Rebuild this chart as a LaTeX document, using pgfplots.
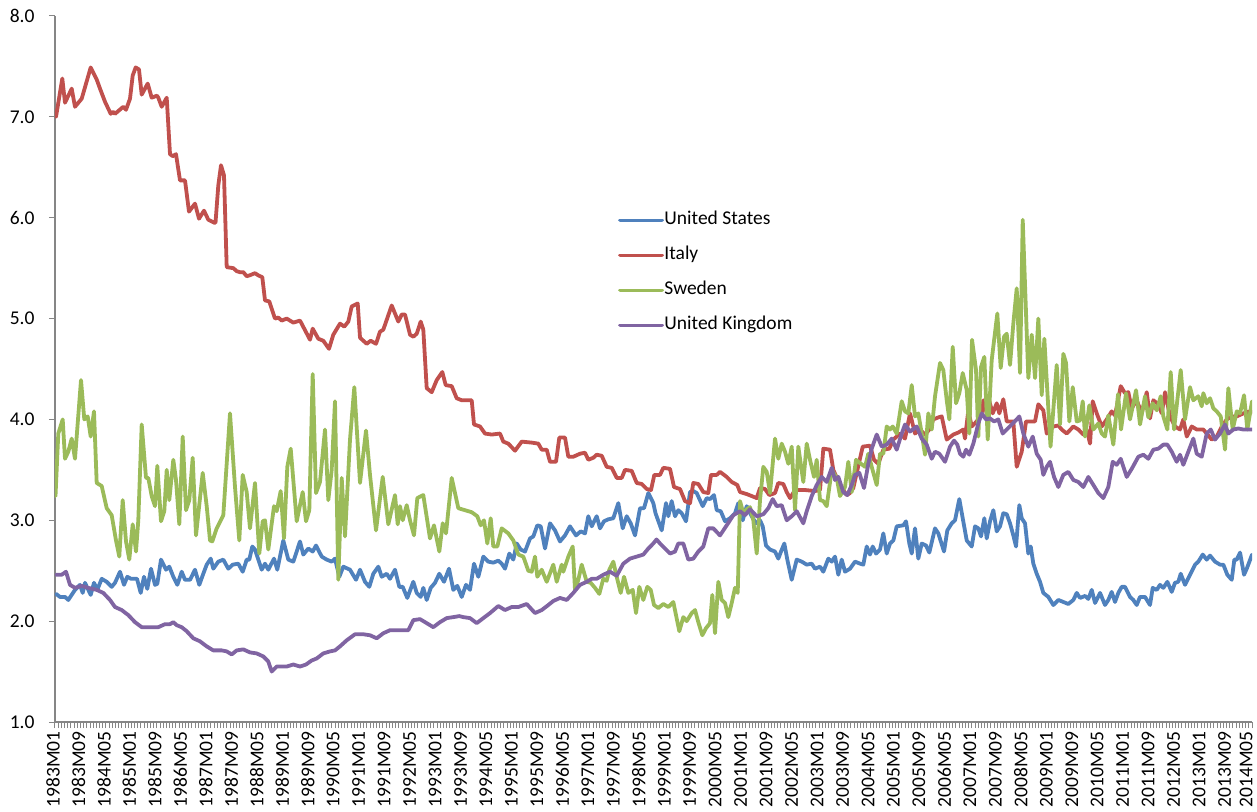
\documentclass[border=0pt]{standalone}
\usepackage{fontspec}
\setmainfont{Carlito}
\usepackage{pgfplots}
\pgfplotsset{compat=1.18}
\usepackage{pgfplotstable}

\definecolor{usblue}{HTML}{4F81BD}
\definecolor{itred}{HTML}{C0504D}
\definecolor{segreen}{HTML}{9BBB59}
\definecolor{ukpurple}{HTML}{8064A2}
\definecolor{axgray}{HTML}{868686}

% px = horizontal position (55 = 1983M01, 1252 = 2014M05), v = value
\pgfplotstableread[row sep=\\]{
px v\\
56 2.27\\ 60 2.24\\ 65 2.24\\ 68.3 2.21\\ 75 2.31\\ 80 2.36\\ 82.7 2.28\\ 85 2.38\\ 90.7 2.26\\ 94 2.38\\
97.3 2.31\\ 101.7 2.42\\ 106.7 2.39\\ 111.7 2.34\\ 115 2.38\\ 120 2.49\\ 124 2.36\\ 127.3 2.44\\ 131 2.42\\ 137 2.42\\
140.7 2.28\\ 144 2.44\\ 147.3 2.32\\ 151 2.52\\ 155 2.36\\ 157.3 2.37\\ 161 2.61\\ 166 2.51\\ 169.3 2.54\\ 173.3 2.44\\
177.3 2.36\\ 181.7 2.49\\ 185 2.41\\ 190 2.41\\ 195 2.51\\ 199.3 2.36\\ 203.3 2.47\\ 206.7 2.56\\ 210.7 2.62\\ 213.3 2.52\\
218.3 2.59\\ 223.3 2.61\\ 228.3 2.52\\ 232.7 2.56\\ 238.3 2.57\\ 242.7 2.49\\ 246.7 2.61\\ 249.3 2.61\\ 252.3 2.74\\ 255 2.71\\
258.3 2.61\\ 261.7 2.51\\ 265 2.57\\ 268.3 2.51\\ 274 2.62\\ 277.3 2.51\\ 283.3 2.80\\ 288.3 2.61\\ 293.3 2.59\\ 300 2.79\\
303.3 2.66\\ 308.3 2.72\\ 312.7 2.69\\ 316 2.75\\ 321.7 2.64\\ 326.7 2.61\\ 331.7 2.59\\ 335 2.62\\ 339.3 2.44\\ 343.3 2.54\\
350 2.51\\ 356 2.41\\ 360 2.51\\ 365 2.39\\ 369.3 2.34\\ 373.3 2.47\\ 378.3 2.54\\ 381.7 2.44\\ 386.7 2.47\\ 390 2.42\\
395 2.51\\ 399.3 2.34\\ 402.7 2.34\\ 407.3 2.23\\ 413.3 2.39\\ 416.7 2.28\\ 420.7 2.24\\ 423.3 2.33\\ 426.7 2.21\\ 430.7 2.33\\
435 2.38\\ 439.3 2.47\\ 444 2.39\\ 449 2.52\\ 453.3 2.31\\ 457.3 2.35\\ 461.7 2.24\\ 466 2.36\\ 470 2.31\\ 474 2.57\\
478.3 2.44\\ 483.3 2.64\\ 488.3 2.59\\ 493.3 2.58\\ 498.3 2.60\\ 501.7 2.57\\ 505 2.52\\ 509.3 2.67\\ 513.3 2.61\\ 516.7 2.77\\
520.7 2.71\\ 525 2.69\\ 530 2.82\\ 533.3 2.84\\ 537.3 2.95\\ 540.7 2.94\\ 545 2.72\\ 550 2.97\\ 555 2.90\\ 560 2.79\\
565 2.85\\ 570 2.94\\ 576 2.85\\ 580.7 2.89\\ 585 2.87\\ 588.3 3.04\\ 591.7 2.94\\ 596.7 3.04\\ 600 2.92\\ 604 2.99\\
608.3 3.01\\ 613.3 3.02\\ 618.3 3.17\\ 622.7 2.92\\ 626.7 3.04\\ 630.7 2.97\\ 635 2.85\\ 640 3.12\\ 644 3.12\\ 648.3 3.27\\
653.3 3.17\\ 655.5 3.07\\ 661.7 2.90\\ 666 3.17\\ 668.3 3.04\\ 671.7 3.19\\ 675 3.04\\ 678.3 3.10\\ 681.7 3.07\\ 686 2.99\\
690 3.28\\ 693.3 3.29\\ 696.7 3.27\\ 702.7 3.14\\ 706.7 3.22\\ 710 3.21\\ 714 3.25\\ 716.7 3.10\\ 720.7 3.09\\ 725 2.99\\
730 3.02\\ 735 3.07\\ 738.3 3.17\\ 742.7 3.00\\ 746.7 3.14\\ 751.7 3.04\\ 756 2.97\\ 760 3.00\\ 762.7 2.94\\ 766 2.75\\
770 2.71\\ 775 2.69\\ 778.3 2.62\\ 781 2.69\\ 784.3 2.77\\ 787.3 2.61\\ 791.7 2.41\\ 796.7 2.61\\ 801.7 2.59\\ 806.7 2.56\\
811.7 2.57\\ 815 2.52\\ 820 2.54\\ 823.3 2.49\\ 828.3 2.62\\ 831.7 2.59\\ 835 2.64\\ 838.3 2.46\\ 841.7 2.61\\ 845 2.49\\
850 2.52\\ 855 2.59\\ 860 2.57\\ 863.3 2.56\\ 866.7 2.74\\ 870 2.66\\ 872.7 2.74\\ 876 2.67\\ 880 2.71\\ 883.3 2.87\\
886.7 2.67\\ 890 2.77\\ 893.3 2.80\\ 896.7 2.94\\ 903.3 2.95\\ 906 2.99\\ 909.3 2.77\\ 911.7 2.67\\ 915 2.92\\ 918.3 2.62\\
921.7 2.77\\ 926 2.75\\ 929.3 2.68\\ 935 2.92\\ 938.3 2.87\\ 944 2.69\\ 947.3 2.90\\ 951.7 2.97\\ 955 3.00\\ 959.3 3.21\\
962.7 3.02\\ 966.7 2.80\\ 971.7 2.74\\ 975 2.94\\ 978.3 2.92\\ 981 2.84\\ 984.3 3.02\\ 986.7 2.82\\ 990 2.99\\ 993.3 3.10\\
996.7 2.89\\ 1000 2.94\\ 1003.3 3.07\\ 1006.7 3.06\\ 1010 2.97\\ 1013.3 2.85\\ 1016 2.74\\ 1019.3 3.15\\ 1021.7 3.02\\ 1025 2.97\\
1028.3 2.67\\ 1030.7 2.74\\ 1033.3 2.57\\ 1036.7 2.47\\ 1040 2.39\\ 1043.3 2.28\\ 1048.3 2.24\\ 1053.3 2.16\\ 1058.3 2.21\\ 1063.3 2.19\\
1068.3 2.17\\ 1073.3 2.21\\ 1076.7 2.28\\ 1080 2.23\\ 1085 2.25\\ 1088.3 2.22\\ 1091.7 2.31\\ 1095 2.18\\ 1100 2.28\\ 1105 2.16\\
1108.3 2.21\\ 1111.7 2.29\\ 1115 2.19\\ 1118.3 2.28\\ 1121.7 2.34\\ 1125 2.34\\ 1130 2.24\\ 1133.3 2.21\\ 1136.7 2.16\\ 1140 2.24\\
1145 2.24\\ 1150 2.16\\ 1152.7 2.33\\ 1156.7 2.31\\ 1160 2.36\\ 1163.3 2.33\\ 1167.3 2.39\\ 1171.7 2.29\\ 1175 2.38\\ 1178.3 2.39\\
1180.7 2.47\\ 1185 2.36\\ 1190 2.46\\ 1195 2.56\\ 1198.3 2.59\\ 1202.7 2.66\\ 1206.7 2.61\\ 1210 2.65\\ 1215 2.59\\ 1220 2.56\\
1223.3 2.56\\ 1227.3 2.46\\ 1231.7 2.41\\ 1234.3 2.61\\ 1236.7 2.61\\ 1240 2.68\\ 1244 2.46\\ 1246.7 2.52\\ 1252 2.66\\
}\usdata

\pgfplotstableread[row sep=\\]{
px v\\
56 7.00\\ 62.3 7.38\\ 65 7.14\\ 71.7 7.28\\ 75 7.10\\ 81.7 7.18\\ 90.7 7.49\\ 96.7 7.37\\ 100 7.28\\ 105 7.15\\
110.7 7.03\\ 113 7.05\\ 115 7.03\\ 123.3 7.10\\ 126 7.07\\ 130 7.18\\ 132.7 7.41\\ 135.7 7.49\\ 139 7.47\\ 141.7 7.22\\
147.7 7.33\\ 151.7 7.19\\ 157 7.21\\ 158.3 7.19\\ 161.7 7.10\\ 166.7 7.19\\ 170 6.63\\ 172.7 6.61\\ 176 6.63\\ 180 6.37\\
185 6.37\\ 189 6.06\\ 195 6.14\\ 199 5.99\\ 204 6.07\\ 208.3 5.98\\ 214.3 5.95\\ 215.5 5.95\\ 218.3 6.32\\ 221 6.52\\
224 6.42\\ 226.7 5.51\\ 233.3 5.50\\ 236.7 5.47\\ 240 5.46\\ 243.3 5.46\\ 246.7 5.42\\ 250 5.43\\ 255 5.45\\ 258 5.43\\
262.3 5.41\\ 265 5.18\\ 269.3 5.17\\ 275 5.00\\ 278.3 5.01\\ 281.7 4.98\\ 286.7 5.00\\ 293.3 4.96\\ 300 4.98\\ 310 4.79\\
312.7 4.90\\ 318.3 4.80\\ 323.3 4.78\\ 329 4.70\\ 333.3 4.84\\ 340 4.95\\ 344.3 4.92\\ 348.3 4.97\\ 351.7 5.12\\ 357.7 5.15\\
360 4.81\\ 366.7 4.75\\ 370.7 4.78\\ 376 4.75\\ 380 4.87\\ 383.3 4.89\\ 391.7 5.13\\ 398.3 4.97\\ 401.7 5.04\\ 405 5.04\\
410 4.84\\ 413.3 4.82\\ 416.7 4.85\\ 420.7 4.97\\ 423.3 4.89\\ 426.7 4.31\\ 431.7 4.27\\ 436.7 4.39\\ 442.3 4.47\\ 445.7 4.34\\
451.7 4.33\\ 456.7 4.21\\ 461.7 4.19\\ 466 4.19\\ 471.7 4.19\\ 474 3.95\\ 480 3.93\\ 485 3.86\\ 491.7 3.85\\ 500 3.86\\
503.3 3.78\\ 508.3 3.76\\ 515 3.69\\ 521.7 3.78\\ 531.7 3.77\\ 538.3 3.76\\ 541.7 3.70\\ 546.7 3.70\\ 550 3.58\\ 556 3.58\\
559.3 3.82\\ 565 3.82\\ 568.3 3.63\\ 573.3 3.63\\ 580 3.66\\ 585 3.67\\ 588.3 3.60\\ 593.3 3.62\\ 596.7 3.65\\ 601.7 3.64\\
606.7 3.53\\ 611.7 3.52\\ 616.7 3.42\\ 621.7 3.42\\ 625 3.50\\ 631.7 3.49\\ 636.7 3.37\\ 641.7 3.36\\ 646.7 3.31\\ 651 3.30\\
654.3 3.45\\ 660 3.45\\ 663.3 3.52\\ 670 3.51\\ 674 3.33\\ 680 3.31\\ 685 3.19\\ 690 3.17\\ 693.3 3.37\\ 698.3 3.36\\
703.3 3.28\\ 708.3 3.27\\ 711 3.45\\ 716.7 3.45\\ 720 3.48\\ 726.7 3.43\\ 731.7 3.38\\ 737.3 3.35\\ 740 3.28\\ 746.7 3.26\\
751.7 3.24\\ 756.7 3.22\\ 760 3.32\\ 765 3.31\\ 769.3 3.25\\ 775 3.27\\ 778.3 3.37\\ 783.3 3.36\\ 786.7 3.28\\ 790 3.22\\
795 3.30\\ 805 3.30\\ 815 3.29\\ 820 3.30\\ 823.3 3.71\\ 830 3.70\\ 833.3 3.50\\ 840 3.35\\ 846.7 3.25\\ 850 3.27\\
853.3 3.32\\ 856.7 3.47\\ 862.7 3.73\\ 870 3.74\\ 874 3.60\\ 878.3 3.56\\ 883.3 3.70\\ 889.3 3.71\\ 893.3 3.80\\ 900 3.86\\
905 3.81\\ 910 4.06\\ 915 3.86\\ 920 3.90\\ 925 3.85\\ 929.3 3.90\\ 933.3 4.00\\ 938.3 4.02\\ 941.7 4.03\\ 946.7 3.80\\
953.3 3.85\\ 958.3 3.87\\ 963.3 3.90\\ 965 3.81\\ 968.3 4.09\\ 971.7 3.93\\ 976.7 3.98\\ 981.7 4.06\\ 983.3 4.19\\ 986.7 4.06\\
989.3 4.18\\ 992.7 4.06\\ 996.7 4.16\\ 999.3 4.06\\ 1003.3 4.20\\ 1006.7 3.98\\ 1013.3 3.98\\ 1016.7 3.53\\ 1021.7 3.68\\ 1026 3.98\\
1031.7 3.98\\ 1035 3.98\\ 1038.3 4.15\\ 1043.3 4.09\\ 1046.7 3.86\\ 1053.3 3.93\\ 1058.3 3.94\\ 1061.7 3.90\\ 1066.7 3.86\\ 1073.3 3.93\\
1078.3 3.90\\ 1083.3 3.85\\ 1086.7 3.90\\ 1090 3.76\\ 1092.7 4.18\\ 1096.7 4.06\\ 1101.7 3.93\\ 1106.7 4.00\\ 1111.7 4.08\\ 1115 4.04\\
1120.7 4.33\\ 1125 4.26\\ 1128.3 4.27\\ 1131.7 4.11\\ 1136.7 4.19\\ 1141.7 4.06\\ 1146.7 4.27\\ 1150 4.01\\ 1153.3 4.19\\ 1158.3 4.15\\
1161.7 4.06\\ 1165 4.27\\ 1170 4.03\\ 1175 3.93\\ 1180 3.90\\ 1183.3 4.00\\ 1186.7 3.83\\ 1191.7 3.93\\ 1196.7 3.90\\ 1203.3 3.90\\
1206.7 3.86\\ 1211.7 3.80\\ 1216.7 3.83\\ 1221.7 3.93\\ 1226.7 4.00\\ 1231.7 4.03\\ 1236.7 4.03\\ 1243.3 4.06\\ 1250 4.08\\ 1252 4.07\\
}\itdata

\pgfplotstableread[row sep=\\]{
px v\\
55.5 3.24\\ 58.3 3.86\\ 62.7 4.00\\ 65 3.61\\ 68.3 3.68\\ 71.7 3.81\\ 75 3.61\\ 81 4.39\\ 84.3 4.00\\ 87.7 4.03\\
90.7 3.83\\ 94 4.08\\ 96.7 3.37\\ 101.7 3.34\\ 106.7 3.12\\ 111.7 3.05\\ 116 2.80\\ 119.3 2.64\\ 122.7 3.20\\ 126 2.79\\
129.3 2.61\\ 132.7 2.96\\ 136 2.69\\ 138.3 3.00\\ 141.7 3.95\\ 146 3.42\\ 148.3 3.42\\ 151.7 3.24\\ 155 3.14\\ 157.3 3.54\\
161 2.99\\ 164.3 3.09\\ 166.7 3.50\\ 169.3 3.20\\ 173.3 3.60\\ 176 3.40\\ 179.3 2.96\\ 182.7 3.83\\ 186 3.10\\ 189.3 3.20\\
192.7 3.62\\ 196 2.85\\ 202.7 3.47\\ 206.7 3.14\\ 210 2.80\\ 212.3 2.79\\ 216.7 2.92\\ 223.3 3.05\\ 230 4.06\\ 235 3.33\\
239.3 2.80\\ 242.7 3.45\\ 246.7 3.28\\ 250 2.92\\ 255 3.37\\ 259.3 2.67\\ 262.7 2.99\\ 265 3.00\\ 268.3 2.71\\ 274 3.14\\
276.7 3.09\\ 280.7 3.29\\ 284 2.82\\ 287.3 3.53\\ 290.7 3.71\\ 296.7 2.99\\ 302.7 3.28\\ 306 2.99\\ 309.3 3.10\\ 312.7 4.45\\
316 3.27\\ 320 3.38\\ 325 3.90\\ 328.3 3.20\\ 331.7 3.50\\ 335 4.18\\ 338.3 2.41\\ 341.7 3.42\\ 345 2.84\\ 350 3.80\\
354.3 4.32\\ 360 3.37\\ 366 3.89\\ 370 3.45\\ 376 2.90\\ 382.7 3.43\\ 388.3 2.96\\ 395 3.25\\ 397.7 2.96\\ 400 3.14\\
402.7 3.00\\ 406.7 3.15\\ 410 3.00\\ 414 2.85\\ 417.3 3.22\\ 423.3 3.25\\ 430 2.82\\ 434 2.95\\ 439.3 2.69\\ 442.7 2.97\\
446 2.87\\ 451.7 3.42\\ 458.3 3.12\\ 465 3.10\\ 471.7 3.08\\ 477.3 3.04\\ 480.7 2.95\\ 484 3.00\\ 487.3 2.77\\ 490.7 3.02\\
493.3 2.74\\ 497.3 2.74\\ 501.7 2.92\\ 508.3 2.87\\ 513.3 2.80\\ 518.3 2.66\\ 523.3 2.64\\ 528.3 2.50\\ 531.7 2.49\\ 535 2.64\\
537.3 2.44\\ 541.7 2.51\\ 546.7 2.39\\ 553.3 2.56\\ 556.7 2.39\\ 561.7 2.56\\ 563.3 2.49\\ 568.3 2.64\\ 572.7 2.74\\ 575 2.31\\
578.3 2.41\\ 581.7 2.56\\ 586.7 2.39\\ 590.7 2.38\\ 595 2.33\\ 599.3 2.27\\ 603.3 2.42\\ 606.7 2.40\\ 609.3 2.51\\ 613.3 2.59\\
616.7 2.44\\ 620.7 2.28\\ 624 2.44\\ 628.3 2.28\\ 632.7 2.31\\ 636 2.08\\ 639.3 2.34\\ 643.3 2.21\\ 647.3 2.34\\ 650.7 2.31\\
654 2.16\\ 658.3 2.13\\ 663.3 2.17\\ 668.3 2.14\\ 673.3 2.19\\ 679.3 1.90\\ 683.3 2.04\\ 686.7 2.00\\ 691.7 2.08\\ 695 2.11\\
698.3 1.99\\ 702.3 1.86\\ 706 1.93\\ 710 1.98\\ 712.3 2.26\\ 715 1.88\\ 718.3 2.39\\ 721.7 2.21\\ 725 2.18\\ 728.3 2.04\\
731.7 2.18\\ 735 2.33\\ 737.7 2.28\\ 740 3.19\\ 743.3 3.07\\ 746.7 3.11\\ 750 3.13\\ 753.3 3.00\\ 756.7 2.67\\ 760 3.20\\
763.3 3.53\\ 766.7 3.48\\ 770 3.27\\ 775 3.81\\ 778.3 3.61\\ 781.7 3.76\\ 785 3.68\\ 788.3 3.56\\ 791.7 3.73\\ 795 3.10\\
798.3 3.73\\ 803.3 3.38\\ 806.7 3.76\\ 810 3.60\\ 814 3.43\\ 816.7 3.60\\ 820 3.20\\ 823.3 3.19\\ 826.7 3.14\\ 831.7 3.50\\
836.7 3.42\\ 840 3.24\\ 845 3.33\\ 848.3 3.58\\ 851.7 3.28\\ 856 3.60\\ 858.3 3.58\\ 865 3.53\\ 868.3 3.66\\ 871.7 3.53\\
876.7 3.35\\ 880 3.66\\ 883.3 3.66\\ 886.7 3.93\\ 890 3.90\\ 892.7 3.93\\ 896.7 3.86\\ 901.7 4.18\\ 905 4.08\\ 908.3 4.06\\
911.7 4.34\\ 915 4.03\\ 918.3 4.06\\ 921.7 3.86\\ 925 3.65\\ 928.3 4.06\\ 931.7 3.90\\ 935 4.23\\ 940 4.56\\ 943.3 4.49\\
946.7 4.19\\ 949.3 4.00\\ 952.7 4.72\\ 956 4.16\\ 959.3 4.26\\ 962.7 4.46\\ 966.7 4.29\\ 969.3 3.86\\ 972 4.79\\ 976 4.49\\
978.3 3.83\\ 981 4.52\\ 984.3 4.62\\ 987.7 3.80\\ 991.7 4.59\\ 997.3 5.05\\ 1000.7 4.51\\ 1004 4.82\\ 1006.7 4.85\\ 1010 4.54\\
1013.3 4.95\\ 1016.7 5.30\\ 1020 4.46\\ 1022.7 5.98\\ 1028.3 4.41\\ 1031.7 4.84\\ 1035 4.41\\ 1038.3 5.00\\ 1041.7 4.24\\ 1044.3 4.80\\
1050.5 3.73\\ 1056.7 4.54\\ 1060 3.95\\ 1063.3 4.65\\ 1066 4.56\\ 1069.3 3.98\\ 1072.7 4.32\\ 1076.7 3.98\\ 1080 3.99\\ 1082.7 4.18\\
1085 3.83\\ 1089.3 4.14\\ 1093.3 3.90\\ 1098.3 3.96\\ 1101.7 3.86\\ 1105 3.83\\ 1108.3 4.04\\ 1113.3 3.75\\ 1118 4.25\\ 1121 3.90\\
1126 4.26\\ 1130 4.00\\ 1136 4.29\\ 1140 3.95\\ 1145 4.23\\ 1148.3 4.02\\ 1152.7 4.16\\ 1156.7 4.09\\ 1160.7 4.23\\ 1163.3 4.03\\
1167.3 3.90\\ 1170.7 4.47\\ 1174 3.90\\ 1180.7 4.49\\ 1185 4.00\\ 1190 4.32\\ 1193.3 4.19\\ 1198.3 4.23\\ 1201.7 4.13\\ 1203.3 4.26\\
1206.7 4.16\\ 1210 4.21\\ 1213.3 4.11\\ 1216.7 4.08\\ 1220.7 4.03\\ 1225 3.70\\ 1228.3 4.31\\ 1232.7 3.90\\ 1236.7 4.08\\ 1240 4.06\\
1244 4.24\\ 1247.3 3.90\\ 1252 4.18\\
}\sedata

\pgfplotstableread[row sep=\\]{
px v\\
56 2.46\\ 61.7 2.46\\ 66 2.49\\ 70 2.36\\ 75 2.33\\ 81.7 2.35\\ 88.3 2.33\\ 96.7 2.31\\ 103.3 2.28\\ 110 2.21\\
115 2.14\\ 121.7 2.11\\ 128.3 2.06\\ 135 1.99\\ 141.7 1.94\\ 150 1.94\\ 158.3 1.94\\ 165 1.97\\ 170 1.97\\ 173.3 1.99\\
176.7 1.96\\ 181.7 1.94\\ 186.7 1.90\\ 193.3 1.83\\ 200 1.80\\ 206.7 1.75\\ 213.3 1.71\\ 221.7 1.71\\ 226.7 1.70\\ 231.7 1.67\\
236.7 1.71\\ 243.3 1.72\\ 250 1.69\\ 256.7 1.68\\ 263.3 1.65\\ 268.3 1.60\\ 271.7 1.50\\ 276.7 1.55\\ 286.7 1.55\\ 293.3 1.57\\
300 1.55\\ 306 1.57\\ 311.7 1.61\\ 316.7 1.63\\ 323.3 1.68\\ 330 1.70\\ 335 1.71\\ 340 1.75\\ 346.7 1.81\\ 355 1.87\\
363.3 1.87\\ 370 1.86\\ 376.7 1.83\\ 383.3 1.88\\ 390 1.91\\ 396.7 1.91\\ 403.3 1.91\\ 408.3 1.91\\ 413.3 2.01\\ 420 2.02\\
426.7 1.98\\ 433.3 1.94\\ 440 1.99\\ 446.7 2.03\\ 453.3 2.04\\ 459.3 2.05\\ 463.3 2.04\\ 470 2.03\\ 476.7 1.98\\ 483.3 2.03\\
490 2.08\\ 498.3 2.15\\ 505 2.11\\ 511.7 2.14\\ 518.3 2.14\\ 526.7 2.17\\ 535 2.08\\ 541.7 2.11\\ 548.3 2.16\\ 553.3 2.20\\
560 2.23\\ 566.7 2.21\\ 573.3 2.28\\ 580 2.36\\ 586.7 2.39\\ 591.7 2.42\\ 596.7 2.42\\ 603.3 2.46\\ 610 2.49\\ 616.7 2.45\\
623.3 2.57\\ 630 2.62\\ 636.7 2.64\\ 643.3 2.66\\ 648.3 2.72\\ 653.3 2.77\\ 656.5 2.81\\ 660 2.77\\ 665 2.72\\ 670 2.67\\
675 2.69\\ 678.3 2.77\\ 683.3 2.77\\ 688.3 2.61\\ 693.3 2.62\\ 698.3 2.69\\ 703.3 2.74\\ 708.3 2.92\\ 713.3 2.92\\ 720 2.85\\
726.7 2.95\\ 733.3 3.05\\ 740 3.09\\ 745 3.05\\ 750 3.11\\ 756.7 3.04\\ 763.3 3.06\\ 768.3 3.12\\ 772.7 3.21\\ 776.7 3.14\\
781.7 3.15\\ 786.7 3.00\\ 791.7 3.04\\ 796.7 3.09\\ 803.3 2.97\\ 806.7 3.09\\ 811.7 3.24\\ 816.7 3.35\\ 821.7 3.43\\ 826.7 3.38\\
831.7 3.52\\ 835 3.40\\ 838.3 3.43\\ 843.3 3.28\\ 847.3 3.25\\ 851.7 3.35\\ 855 3.45\\ 859.3 3.47\\ 864 3.32\\ 868.3 3.56\\
871.7 3.71\\ 876.7 3.85\\ 881.7 3.73\\ 886.7 3.75\\ 891.7 3.81\\ 896.7 3.70\\ 901.7 3.86\\ 905 3.95\\ 910 3.88\\ 916.7 3.93\\
921.7 3.81\\ 926.7 3.75\\ 931.7 3.61\\ 935 3.68\\ 939.3 3.66\\ 945 3.58\\ 950 3.73\\ 954 3.79\\ 957.3 3.75\\ 960 3.66\\
963.3 3.63\\ 966 3.70\\ 969.3 3.65\\ 973.3 3.76\\ 978.3 3.96\\ 981.7 4.06\\ 986 4.00\\ 990 4.01\\ 994 3.98\\ 998.3 4.00\\
1002.7 3.86\\ 1006.7 3.90\\ 1011.7 3.95\\ 1016.7 4.00\\ 1019.3 4.03\\ 1023.3 3.86\\ 1028.3 3.73\\ 1032.7 3.83\\ 1036.7 3.66\\ 1040.7 3.60\\
1043.3 3.45\\ 1046.7 3.53\\ 1050 3.58\\ 1054 3.43\\ 1058.3 3.33\\ 1063.3 3.45\\ 1068.3 3.48\\ 1073.3 3.40\\ 1078.3 3.38\\ 1083.3 3.33\\
1088.3 3.43\\ 1093.3 3.35\\ 1098.3 3.27\\ 1103.3 3.22\\ 1108.3 3.33\\ 1112.7 3.58\\ 1116.7 3.55\\ 1120.7 3.61\\ 1126.7 3.43\\ 1131.7 3.51\\
1138.3 3.63\\ 1143.3 3.65\\ 1148.3 3.61\\ 1153.3 3.70\\ 1158.3 3.71\\ 1163.3 3.75\\ 1167.3 3.75\\ 1171.7 3.68\\ 1176.7 3.58\\ 1180 3.65\\
1183.3 3.55\\ 1188.3 3.68\\ 1193.3 3.81\\ 1196.7 3.66\\ 1201.7 3.63\\ 1206.7 3.86\\ 1210.7 3.90\\ 1215 3.80\\ 1220 3.86\\ 1225 3.95\\
1228.3 3.86\\ 1233.3 3.90\\ 1238.3 3.91\\ 1243.3 3.90\\ 1252 3.90\\
}\ukdata

\begin{document}
\begin{tikzpicture}
\path[use as bounding box] (-55bp,-90bp) rectangle (1202bp,722bp);
\begin{axis}[
  at={(0,0)}, anchor=south west,
  scale only axis, width=1197bp, height=706bp,
  xmin=0, xmax=376, ymin=1, ymax=8,
  axis x line*=bottom, axis y line*=left,
  axis line style={draw=axgray, line width=1.3bp, -},
  tick align=outside,
  major tick length=6bp, minor tick length=6bp,
  tick style={draw=axgray, line width=1bp},
  xtick={0,8,...,368},
  minor xtick={0,1,...,376},
  xticklabels={1983M01,1983M09,1984M05,1985M01,1985M09,1986M05,1987M01,1987M09,1988M05,1989M01,1989M09,1990M05,1991M01,1991M09,1992M05,1993M01,1993M09,1994M05,1995M01,1995M09,1996M05,1997M01,1997M09,1998M05,1999M01,1999M09,2000M05,2001M01,2001M09,2002M05,2003M01,2003M09,2004M05,2005M01,2005M09,2006M05,2007M01,2007M09,2008M05,2009M01,2009M09,2010M05,2011M01,2011M09,2012M05,2013M01,2013M09},
  extra x ticks={376},
  extra x tick labels={2014M05},
  extra x tick style={xticklabel style={yshift=4bp}},
  ytick={1,2,...,8},
  /pgf/number format/assume math mode=true,
  yticklabel style={/pgf/number format/.cd, fixed, fixed zerofill, precision=1, /tikz/.cd, xshift=-11bp},
  tick label style={font=\fontsize{19.5bp}{22bp}\selectfont, text=black},
  xticklabel style={xshift=-2bp, rotate=90, anchor=east},
  legend style={at={(rel axis cs:0.4703,0.636)}, anchor=west, draw=none, fill=none,
    inner sep=0pt, row sep=18bp, font=\fontsize{19.5bp}{22bp}\selectfont,
    nodes={inner xsep=0.5bp, inner ysep=0pt, text height=13bp, text depth=4bp}},
  legend cell align=left,
  legend image code/.code={\draw[#1] (0bp,0bp) -- (42bp,0bp);},
  every axis plot/.append style={line width=3.8bp, line join=round, line cap=round},
]
\addplot[usblue] table[x expr={(\thisrow{px}-55)/3.1835}, y=v] {\usdata};
\addplot[itred] table[x expr={(\thisrow{px}-55)/3.1835}, y=v] {\itdata};
\addplot[segreen] table[x expr={(\thisrow{px}-55)/3.1835}, y=v] {\sedata};
\addplot[ukpurple] table[x expr={(\thisrow{px}-55)/3.1835}, y=v] {\ukdata};
\legend{United States, Italy, Sweden, United Kingdom}
\end{axis}
\end{tikzpicture}
\end{document}
